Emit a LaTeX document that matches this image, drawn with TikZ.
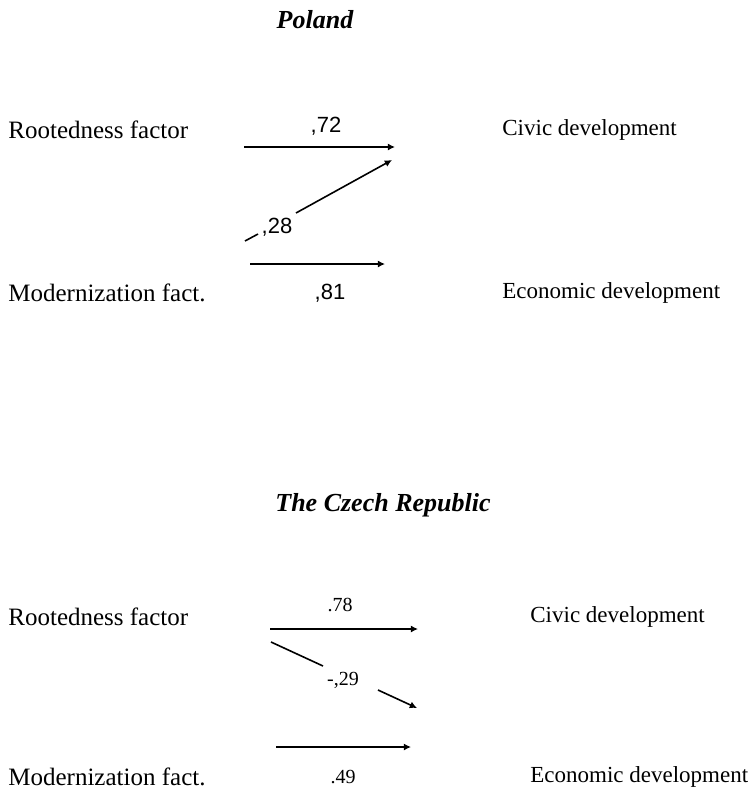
\documentclass[tikz,border=0pt]{standalone}
\usepackage{fontspec}
\setmainfont{Liberation Serif}
\newfontfamily\coefsans{Liberation Sans}
\usepackage{tikz}
\usetikzlibrary{arrows.meta, positioning}
\tikzstyle{arrow} = [-{Latex[length=3.6pt,width=3.6pt]}, line width=0.8pt]
\tikzstyle{plain} = [line width=0.8pt]
\tikzstyle{country} = [inner sep=0pt, font=\bfseries\itshape\fontsize{13}{15}\selectfont]
\tikzstyle{factor} = [anchor=west, inner sep=0pt, font=\fontsize{12.5}{15}\selectfont]
\tikzstyle{outcome} = [anchor=west, inner sep=0pt, font=\fontsize{11.5}{14}\selectfont]
\tikzstyle{coefpl} = [inner sep=1pt, font=\coefsans\fontsize{11}{13}\selectfont]
\tikzstyle{coefcz} = [inner sep=1pt, font=\fontsize{10}{12}\selectfont]

\begin{document}
\begin{tikzpicture}[x=0.5pt, y=-0.5pt]
    \useasboundingbox (0,0) rectangle (751,798);
    % Poland
    \node[country] (pl) at (315,20) {Poland};
    \node[factor] (plroot) at (8,130) {Rootedness factor};
    \node[factor] (plmod) at (8,293) {Modernization fact.};
    \node[outcome] (plcivic) at (502,130) {Civic development};
    \node[outcome] (plecon) at (502,293) {Economic development};
    \node[coefpl] (pl72) at (326,126) {,72};
    \node[coefpl] (pl28) at (277,227) {,28};
    \node[coefpl] (pl81) at (330,293) {,81};
    \coordinate (pla) at (244,147);
    \coordinate (plb) at (395,147);
    \coordinate (plc) at (245,241);
    \coordinate (plg) at (258,234);
    \coordinate (plh) at (296,213);
    \coordinate (pld) at (392,160);
    \coordinate (ple) at (250,264);
    \coordinate (plf) at (385,264);
    \draw[arrow] (pla) -- (plb);
    \draw[plain] (plc) -- (plg);
    \draw[arrow] (plh) -- (pld);
    \draw[arrow] (ple) -- (plf);
    % The Czech Republic
    \node[country] (cz) at (383,505) {The Czech Republic};
    \node[factor] (czroot) at (8,617) {Rootedness factor};
    \node[factor] (czmod) at (8,777) {Modernization fact.};
    \node[outcome] (czcivic) at (530,617) {Civic development};
    \node[outcome] (czecon) at (530,777) {Economic development};
    \node[coefcz] (cz78) at (340,605) {.78};
    \node[coefcz] (cz29) at (343,680) {-,29};
    \node[coefcz] (cz49) at (343,777) {.49};
    \coordinate (cza) at (270,629);
    \coordinate (czb) at (418,629);
    \coordinate (czc) at (271,642);
    \coordinate (czg) at (323,666);
    \coordinate (czh) at (378,690);
    \coordinate (czd) at (417,708);
    \coordinate (cze) at (276,747);
    \coordinate (czf) at (411,747);
    \draw[arrow] (cza) -- (czb);
    \draw[plain] (czc) -- (czg);
    \draw[arrow] (czh) -- (czd);
    \draw[arrow] (cze) -- (czf);
\end{tikzpicture}
\end{document}
